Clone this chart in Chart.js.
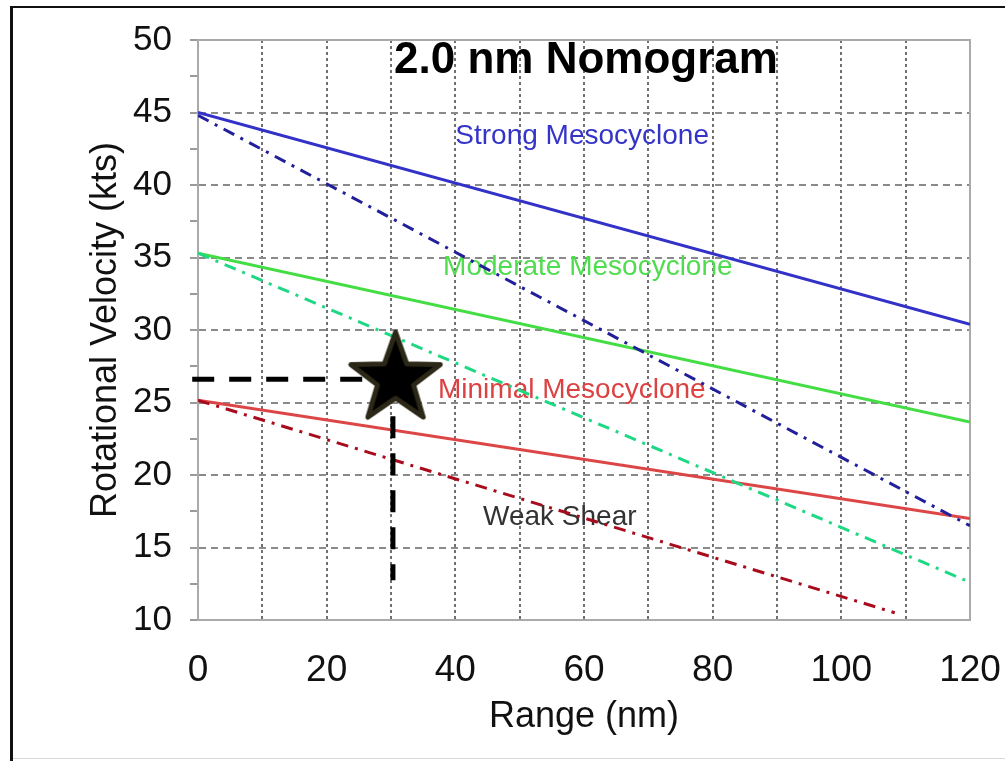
<!DOCTYPE html>
<html><head><meta charset="utf-8">
<script src="https://cdn.jsdelivr.net/npm/chart.js@4.4.1/dist/chart.umd.min.js"></script>
<style>html,body{margin:0;padding:0;background:#fff;overflow:hidden}canvas{display:block}</style>
</head><body>
<canvas id="c" width="1005" height="761"></canvas>
<script>
// ---- data ----
const rangeEnds = [0, 120];
const strongSolid = [45.0, 30.4];
const strongDashDot = [44.8, 16.5];
const moderateSolid = [35.3, 23.65];
const moderateDashDot = [35.3, 12.6];
const minimalSolid = [25.15, 17.0];
const weakRangeEnds = [0, 108.3];
const weakDashDot = [25.15, 10.5];
const markRange = [30.7];
const markVelocity = [26.75];
const guideHRange = [-0.9, 30.6];
const guideHVelocity = [26.6, 26.6];
const guideVRange = [30.3, 30.3];
const guideVVelocity = [26.6, 12.75];
const zoneNames = ['Strong Mesocyclone', 'Moderate Mesocyclone', 'Minimal Mesocyclone', 'Weak Shear'];
const zoneRange = [40.0, 38.1, 37.3, 44.3];
const zoneVelocity = [42.8, 33.8, 25.3, 16.55];
const titleText = '2.0 nm Nomogram';
const xTitle = 'Range (nm)';
const yTitle = 'Rotational Velocity (kts)';

const FONT = "'Liberation Sans', Arial, sans-serif";
const zoneColors = ['#3434c8', '#4fdc4f', '#dc4242', '#333333'];

const pts = (xs, ys) => xs.map((v, i) => ({x: v, y: ys[i]}));

// star marker image
const starImg = document.createElement('canvas');
starImg.width = 110; starImg.height = 110;
(function () {
  const s = starImg.getContext('2d');
  const cx = 55, cy = 57, R = 47, r = 19;
  s.beginPath();
  for (let i = 0; i < 10; i++) {
    const rad = i % 2 === 0 ? R : r;
    const a = -Math.PI / 2 + i * Math.PI / 5;
    const px = cx + rad * Math.cos(a), py = cy + rad * Math.sin(a);
    if (i === 0) s.moveTo(px, py); else s.lineTo(px, py);
  }
  s.closePath();
  s.fillStyle = '#000';
  s.fill();
  s.lineJoin = 'round';
  s.lineWidth = 5;
  s.strokeStyle = '#2c2818';
  s.stroke();
})();

const decor = {
  id: 'decor',
  beforeDraw(chart) {
    const c = chart.ctx;
    c.save();
    c.fillStyle = '#fff';
    c.fillRect(0, 0, chart.width, chart.height);
    c.fillStyle = '#111';
    c.fillRect(10, 6, 3, chart.height - 6);
    c.fillRect(10, 6, chart.width - 10, 2);
    c.fillStyle = '#d8d8d8';
    c.fillRect(13, 758, chart.width - 13, 1);
    c.restore();
  },
  beforeDatasetsDraw(chart) {
    const {ctx, chartArea: a, scales: {x, y}} = chart;
    ctx.save();
    ctx.setLineDash([]);
    ctx.strokeStyle = '#aaaaaa';
    ctx.lineWidth = 2;
    ctx.strokeRect(a.left, a.top, a.right - a.left, a.bottom - a.top);
    ctx.fillStyle = '#000';
    ctx.font = 'bold 44px ' + FONT;
    ctx.textAlign = 'center';
    ctx.textBaseline = 'alphabetic';
    ctx.fillText(titleText, (a.left + a.right) / 2 + 2, a.top + 33);
    ctx.font = '28px ' + FONT;
    ctx.textAlign = 'left';
    zoneNames.forEach((t, i) => {
      ctx.fillStyle = zoneColors[i];
      ctx.fillText(t, x.getPixelForValue(zoneRange[i]), y.getPixelForValue(zoneVelocity[i]));
    });
    ctx.restore();
  }
};

const dashDot = [12, 7, 3, 7];
const line = (label, xs, ys, color, dash, order) => ({
  label, data: pts(xs, ys), showLine: true, borderColor: color, backgroundColor: color,
  borderWidth: 3, borderDash: dash, pointRadius: 0, order, tension: 0
});

new Chart(document.getElementById('c'), {
  type: 'scatter',
  data: {
    datasets: [
      {label: 'Mark', data: pts(markRange, markVelocity), pointStyle: starImg, pointRadius: 10, order: 0},
      {label: 'Guide H', data: pts(guideHRange, guideHVelocity), showLine: true, borderColor: '#000', borderWidth: 5,
        borderDash: [22, 15], pointRadius: 0, clip: false, order: 1},
      {label: 'Guide V', data: pts(guideVRange, guideVVelocity), showLine: true, borderColor: '#000', borderWidth: 5,
        borderDash: [22, 15], pointRadius: 0, clip: false, order: 1},
      line('Strong', rangeEnds, strongSolid, '#3232c8', [], 3),
      line('Strong dash-dot', rangeEnds, strongDashDot, '#211f9a', dashDot, 2),
      line('Moderate', rangeEnds, moderateSolid, '#44dd44', [], 3),
      line('Moderate dash-dot', rangeEnds, moderateDashDot, '#1fd884', dashDot, 2),
      line('Minimal', rangeEnds, minimalSolid, '#dd4646', [], 3),
      line('Weak dash-dot', weakRangeEnds, weakDashDot, '#a80c1c', dashDot, 2)
    ]
  },
  options: {
    responsive: false,
    animation: false,
    devicePixelRatio: 1,
    layout: {padding: {left: 80, right: 35, top: 40, bottom: 0}},
    plugins: {legend: {display: false}, tooltip: {enabled: false}},
    scales: {
      x: {
        type: 'linear', min: 0, max: 120,
        afterFit: s => { s.height = 141; s.paddingLeft = 0; s.paddingRight = 0; },
        ticks: {
          stepSize: 10, autoSkip: false, maxRotation: 0, padding: 29,
          color: '#111', font: {size: 37, family: FONT},
          callback: v => (v % 20 === 0 ? String(v) : '')
        },
        grid: {
          drawTicks: false, lineWidth: 2,
          color: c => (c.tick && (c.tick.value === 0 || c.tick.value === 120)) ? 'rgba(0,0,0,0)' : '#707070'
        },
        border: {display: true, color: '#aaa', width: 2, dash: [3, 3]},
        title: {display: true, text: xTitle, color: '#111', font: {size: 36, family: FONT}, padding: {top: 0, bottom: 22}}
      },
      y: {
        type: 'linear', min: 10, max: 50,
        afterFit: s => { s.width = 118; s.paddingTop = 0; s.paddingBottom = 0; },
        ticks: {
          stepSize: 2.5, autoSkip: false, padding: 18,
          color: '#111', font: {size: 35, family: FONT},
          callback: v => (v % 5 === 0 ? String(v) : '')
        },
        grid: {
          drawTicks: true, tickLength: 8, tickWidth: 2, tickColor: '#9a9a9a', tickBorderDash: [],
          lineWidth: 2,
          color: c => (c.tick && c.tick.value % 5 === 0 && c.tick.value !== 10 && c.tick.value !== 50) ? '#8a8a8a' : 'rgba(0,0,0,0)'
        },
        border: {display: true, color: '#aaa', width: 2, dash: [7, 5]},
        title: {display: true, text: yTitle, color: '#111', font: {size: 36, family: FONT}, padding: {top: 4, bottom: 0}}
      }
    }
  },
  plugins: [decor]
});
</script>
</body></html>
